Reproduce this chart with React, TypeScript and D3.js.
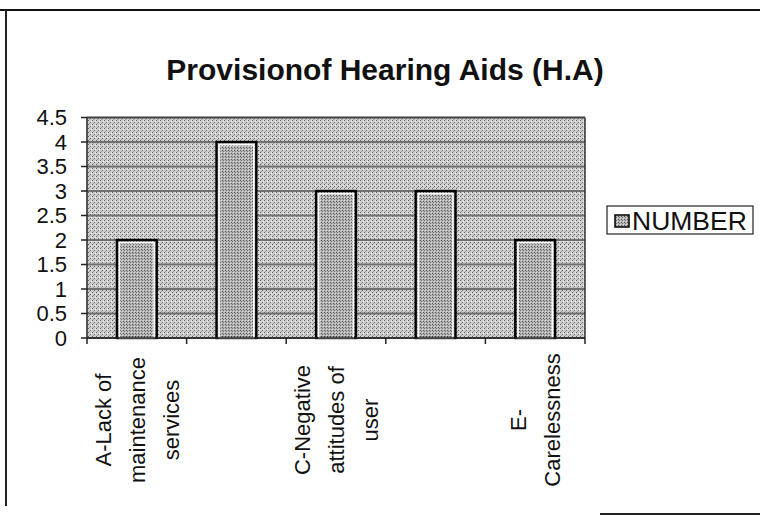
import React from "react";
import * as d3 from "d3";

const categories = [
  "A-Lack of maintenance services",
  "B",
  "C-Negative attitudes of user",
  "D",
  "E-Carelessness",
];
const categoryLines = [
  ["A-Lack of", "maintenance", "services"],
  [],
  ["C-Negative", "attitudes of", "user"],
  [],
  ["E-", "Carelessness"],
];
const values = [2, 4, 3, 3, 2];
const yTicks = [0, 0.5, 1, 1.5, 2, 2.5, 3, 3.5, 4, 4.5];
const yTickLabels = ["0", "0.5", "1", "1.5", "2", "2.5", "3", "3.5", "4", "4.5"];
const title = "Provisionof Hearing Aids (H.A)";
const seriesName = "NUMBER";

const W = 760;
const H = 516;
const FONT = "'Liberation Sans', Arial, Helvetica, sans-serif";

export default function App() {
  const plot = { left: 87, right: 585, top: 117.5, bottom: 338 };
  const xCat = d3.scaleBand<string>().domain(categories).range([plot.left, plot.right]).padding(0);
  const xBar = d3
    .scaleBand<string>()
    .domain(categories)
    .range([plot.left, plot.right])
    .paddingInner(0.6)
    .paddingOuter(0.3);
  const y = d3.scaleLinear().domain([0, 4.5]).range([plot.bottom, plot.top]);

  const boundaries = categories.map((c) => xCat(c) as number).concat([plot.right]);
  const lineGap = 34;

  return (
    <svg
      width={W}
      height={H}
      style={{ position: "absolute", left: 0, top: 0, background: "#fff" }}
      fontFamily={FONT}
    >
      <defs>
        <pattern id="plotPat" width="4" height="4" patternUnits="userSpaceOnUse">
          <rect width="4" height="4" fill="#d0d0d0" />
          <rect x="0" y="0" width="1" height="1" fill="#666" />
          <rect x="2" y="2" width="1" height="1" fill="#666" />
          <rect x="1" y="3" width="1" height="1" fill="#959595" />
          <rect x="3" y="1" width="1" height="1" fill="#f0f0f0" />
        </pattern>
        <pattern id="barPat" width="3" height="3" patternUnits="userSpaceOnUse">
          <rect width="3" height="3" fill="#b4b4b4" />
          <rect x="0" y="0" width="1" height="1" fill="#555" />
          <rect x="1" y="1" width="1" height="1" fill="#777" />
          <rect x="2" y="2" width="1" height="1" fill="#dcdcdc" />
        </pattern>
      </defs>

      {/* outer frame */}
      <line x1={0} x2={W} y1={10} y2={10} stroke="#111" strokeWidth={2} />
      <line x1={6} x2={6} y1={10} y2={506} stroke="#222" strokeWidth={2} />
      <line x1={600} x2={W} y1={514} y2={514} stroke="#222" strokeWidth={2} />

      {/* title */}
      <text x={385} y={80} textAnchor="middle" fontSize={30} fontWeight="bold" fill="#111">
        {title}
      </text>

      {/* plot area */}
      <rect
        x={plot.left}
        y={plot.top}
        width={plot.right - plot.left}
        height={plot.bottom - plot.top}
        fill="url(#plotPat)"
      />

      {/* gridlines */}
      {yTicks.map((t) => (
        <line
          key={"g" + t}
          x1={plot.left}
          x2={plot.right}
          y1={y(t)}
          y2={y(t)}
          stroke="#707070"
          strokeWidth={1.8}
        />
      ))}

      {/* plot border */}
      <line x1={plot.right} x2={plot.right} y1={plot.top} y2={plot.bottom} stroke="#333" strokeWidth={1.5} />
      <line x1={plot.left} x2={plot.right} y1={plot.top} y2={plot.top} stroke="#444" strokeWidth={1.5} />

      {/* bars */}
      {categories.map((c, i) => {
        const bx = xBar(c) as number;
        const bw = xBar.bandwidth();
        const by = y(values[i]);
        const bh = y(0) - by;
        return (
          <g key={c}>
            <rect x={bx} y={by} width={bw} height={bh} fill="url(#barPat)" stroke="#000" strokeWidth={2.4} />
            <rect
              x={bx + 2.6}
              y={by + 2.6}
              width={bw - 5.2}
              height={bh - 2.6}
              fill="none"
              stroke="#fff"
              strokeWidth={1.5}
            />
          </g>
        );
      })}

      {/* y axis */}
      <line x1={plot.left} x2={plot.left} y1={plot.top} y2={plot.bottom} stroke="#222" strokeWidth={1.5} />
      {yTicks.map((t, i) => (
        <g key={"yt" + t}>
          <line x1={plot.left - 6} x2={plot.left} y1={y(t)} y2={y(t)} stroke="#222" strokeWidth={1.5} />
          <text x={67} y={y(t)} dy="0.36em" textAnchor="end" fontSize={22} fill="#111">
            {yTickLabels[i]}
          </text>
        </g>
      ))}

      {/* x axis */}
      <line x1={plot.left} x2={plot.right} y1={plot.bottom} y2={plot.bottom} stroke="#222" strokeWidth={1.5} />
      {boundaries.map((b, i) => (
        <line key={"xt" + i} x1={b} x2={b} y1={plot.bottom} y2={plot.bottom + 6} stroke="#222" strokeWidth={1.5} />
      ))}
      {categories.map((c, i) => {
        const cx = (xCat(c) as number) + xCat.bandwidth() / 2;
        const lines = categoryLines[i];
        const n = lines.length;
        return lines.map((ln, j) => {
          const lx = cx + (j - (n - 1) / 2) * lineGap;
          return (
            <text
              key={c + j}
              transform={`translate(${lx},420) rotate(-90)`}
              textAnchor="middle"
              dy="0.36em"
              fontSize={22}
              fill="#111"
            >
              {ln}
            </text>
          );
        });
      })}

      {/* legend */}
      <rect x={607} y={206} width={146} height={28} fill="#fff" stroke="#222" strokeWidth={1.2} />
      <rect x={615} y={215} width={14} height={12} fill="url(#barPat)" stroke="#000" strokeWidth={1.5} />
      <text x={632} y={230} fontSize={26.5} fill="#111">
        {seriesName}
      </text>
    </svg>
  );
}
